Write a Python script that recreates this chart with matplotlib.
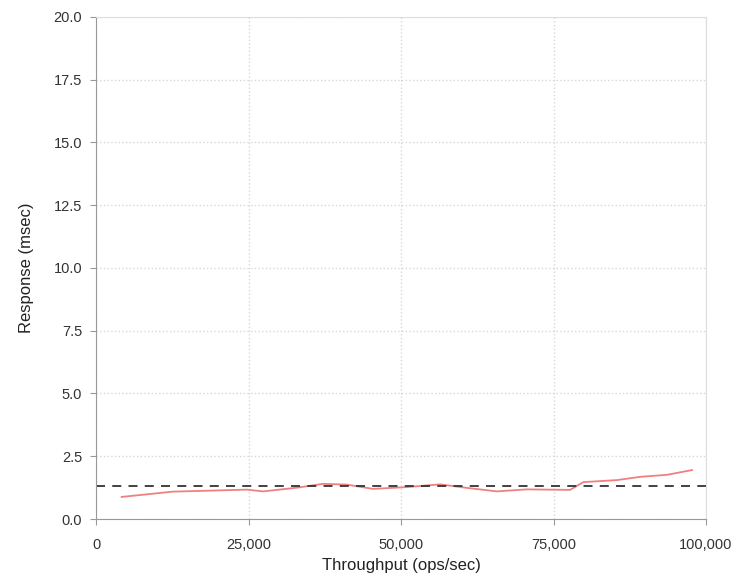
import matplotlib.pyplot as plt
from matplotlib.ticker import FuncFormatter

plt.rcParams['font.family'] = ['Liberation Sans', 'DejaVu Sans']

# throughput (ops/sec) and response (msec)
throughput = [4200, 12600, 24700, 27400, 33000, 37200, 41100, 45400, 50900,
              56400, 60800, 65700, 70600, 77700, 79900, 85400, 89200, 93600, 97700]
response = [0.88, 1.09, 1.17, 1.1, 1.25, 1.4, 1.37, 1.2, 1.27,
            1.38, 1.24, 1.1, 1.18, 1.16, 1.47, 1.55, 1.68, 1.76, 1.95]
target = 1.3

fig = plt.figure(figsize=(7.41, 5.84), dpi=100)
ax = fig.add_axes([0.1296, 0.1113, 0.8232, 0.8596])

ax.plot(throughput, response, color='#f08080', lw=1.3)
ax.axhline(target, color='#333333', lw=1.3, ls=(0, (5, 4)))

ax.set_xlim(0, 100000)
ax.set_ylim(0, 20)
ax.set_xticks([0, 25000, 50000, 75000, 100000])
ax.set_yticks([0, 2.5, 5, 7.5, 10, 12.5, 15, 17.5, 20])
ax.xaxis.set_major_formatter(FuncFormatter(lambda v, p: f'{int(v):,}'))
ax.yaxis.set_major_formatter(FuncFormatter(lambda v, p: f'{v:.1f}'))
ax.grid(True, color='#d8d8d8', ls=':', lw=1)

for s in ['left', 'bottom']:
    ax.spines[s].set_color('#999999')
for s in ['top', 'right']:
    ax.spines[s].set_color('#dddddd')
ax.tick_params(colors='#999999', labelcolor='#333333', labelsize=10.5, length=4)
ax.tick_params(axis='x', pad=10)
ax.tick_params(axis='y', pad=6)

ax.set_xlabel('Throughput (ops/sec)', fontsize=12, color='#222222', labelpad=4)
ax.set_ylabel('Response (msec)', fontsize=12, color='#222222', labelpad=14)

fig.savefig('out.png')
